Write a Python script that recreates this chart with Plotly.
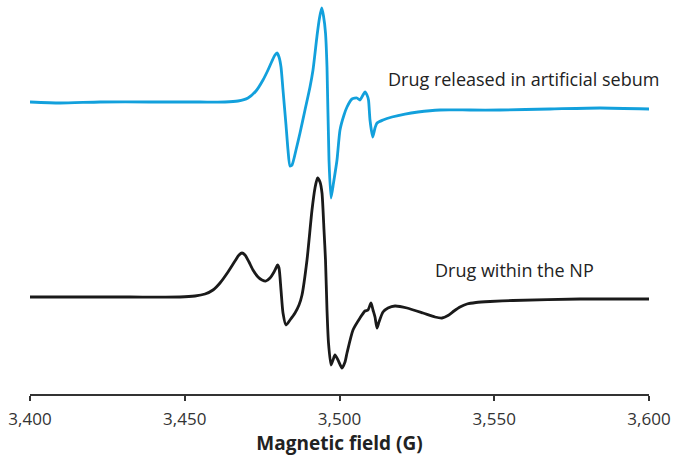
import plotly.graph_objects as go

PX_PER_G = 3.095

# Cyan spectrum: drug released in artificial sebum (field in G, intensity a.u.)
cyan_px = [30, 60, 100, 150, 200, 225, 238, 248, 256, 263, 268, 272, 275, 277, 279, 281, 283, 286, 288, 290, 292, 296, 300, 305, 310, 313, 317, 319.5, 321.7, 323.5, 325.5, 327, 329, 331, 333.5, 337, 340, 344, 347, 352, 357, 360, 363, 365, 367, 368.5, 370, 372.7, 375, 377, 383, 392, 405, 418, 440, 470, 500, 550, 600, 650]
cyan_py = [102, 103, 102, 102, 102, 102, 101, 98, 91, 80, 70, 61, 55, 53, 57, 67, 90, 125, 150, 166, 165, 150, 133, 110, 87, 70, 36, 18, 8, 16, 33, 67, 160, 198, 183, 160, 130, 115, 107, 99, 98, 100, 95, 92, 95, 100, 120, 137, 128, 123, 120, 117, 114, 112, 110, 110, 110, 109, 108, 109]

# Black spectrum: drug within the NP
black_px = [30, 80, 130, 180, 195, 205, 213, 220, 228, 235, 239, 242, 245, 249, 253, 258, 262, 266, 270, 274, 276, 277.5, 279, 281, 283, 286, 290, 295, 299, 302, 307, 312, 315, 317.5, 320, 322, 324, 325.5, 327, 328.5, 331, 333, 335, 338, 342, 345, 347, 353, 360, 365, 368, 371, 373, 375, 377, 379, 383, 388, 395, 407, 423, 435, 442, 448, 454, 460, 467, 476, 490, 513, 580, 650]
black_py = [297, 297, 297, 297, 296, 294, 290, 283, 272, 261, 255, 253, 255, 262, 270, 277, 280, 281, 278, 272, 268, 265, 268, 290, 313, 325, 320, 313, 305, 295, 260, 210, 188, 178, 182, 193, 230, 260, 310, 343, 365, 360, 355, 360, 368, 362, 353, 330, 318, 311, 310, 303, 310, 317, 328, 322, 312, 308, 306, 308, 313, 317, 318, 315.5, 311, 307, 304, 302.5, 301.5, 300.5, 299, 299]

cyan_field = [3400 + (p - 30) / PX_PER_G for p in cyan_px]
black_field = [3400 + (p - 30) / PX_PER_G for p in black_px]
cyan_int = [102 - v for v in cyan_py]
black_int = [297 - v for v in black_py]

CYAN_OFFSET = 292
BLACK_OFFSET = 97

tick_vals = [3400, 3450, 3500, 3550, 3600]
tick_text = ["3,400", "3,450", "3,500", "3,550", "3,600"]

FONT = "Open Sans"

fig = go.Figure()
fig.add_trace(go.Scatter(
    x=cyan_field, y=[v + CYAN_OFFSET for v in cyan_int], mode="lines",
    line=dict(color="#12A0DC", width=2.8, shape="spline", smoothing=0.6),
    showlegend=False, hoverinfo="skip"))
fig.add_trace(go.Scatter(
    x=black_field, y=[v + BLACK_OFFSET for v in black_int], mode="lines",
    line=dict(color="#1a1a1a", width=2.8, shape="spline", smoothing=0.6),
    showlegend=False, hoverinfo="skip"))

fig.add_annotation(x=3515.0, y=315, text="Drug released in artificial sebum",
                   xanchor="left", yanchor="middle", showarrow=False,
                   font=dict(family=FONT, size=18, color="#222222"))
fig.add_annotation(x=3530.2, y=124, text="Drug within the NP",
                   xanchor="left", yanchor="middle", showarrow=False,
                   font=dict(family=FONT, size=18, color="#222222"))

fig.update_layout(
    width=688, height=457,
    margin=dict(l=30, r=39, t=0, b=63),
    paper_bgcolor="white", plot_bgcolor="white",
    xaxis=dict(range=[3400, 3600], tickvals=tick_vals, ticktext=tick_text,
               showgrid=False, zeroline=False, showline=True,
               linecolor="#333333", linewidth=1.5,
               ticks="outside", ticklen=5, tickwidth=1.5, tickcolor="#333333",
               ticklabelstandoff=4,
               tickfont=dict(family=FONT, size=17, color="#333333"),
               title=dict(text="<b>Magnetic field (G)</b>", standoff=3,
                          font=dict(family=FONT, size=19, color="#222222"))),
    yaxis=dict(range=[0, 394], visible=False, showgrid=False, zeroline=False),
)

fig.write_html("out.html")
